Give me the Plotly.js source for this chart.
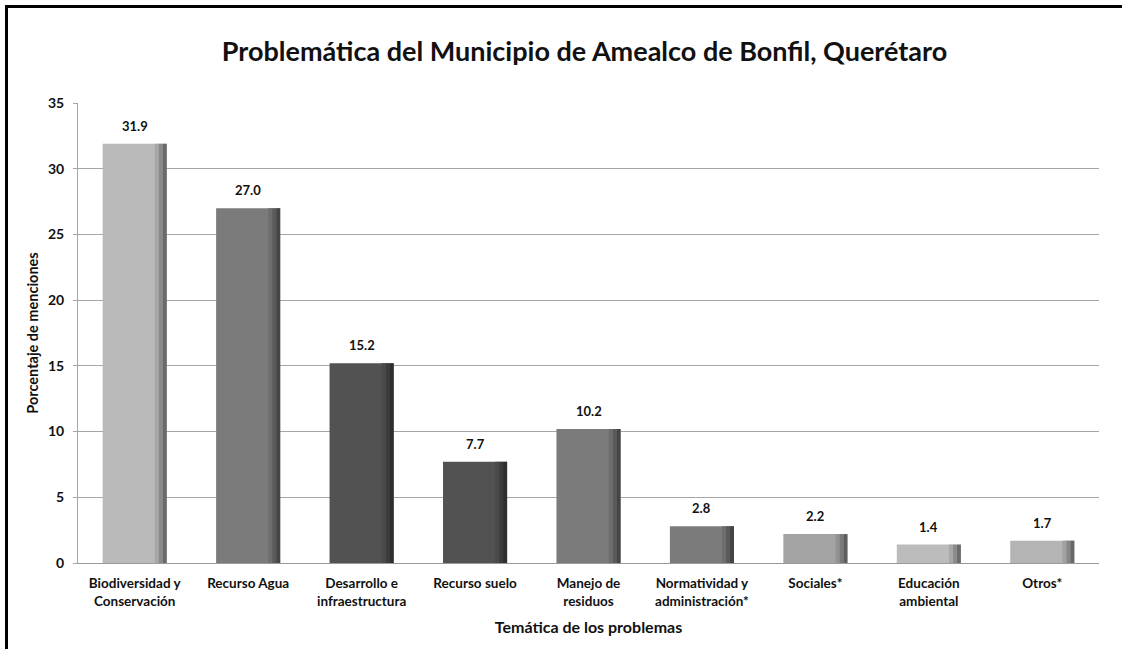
<!DOCTYPE html>
<html>
<head>
<meta charset="utf-8">
<script src="https://cdn.plot.ly/plotly-3.0.1.min.js"></script>
<style>
html,body{margin:0;padding:0;background:#fff;}
#wrap{position:relative;width:1122px;height:649px;}
#chart{position:absolute;left:0;top:0;width:1122px;height:649px;}
#frame{position:absolute;left:5px;top:5px;width:1130px;height:660px;border-left:3px solid #000;border-top:3px solid #000;pointer-events:none;}
</style>
</head>
<body>
<div id="wrap"><div id="chart"></div><div id="frame"></div></div>
<script>
const categories = [
  "Biodiversidad y<br>Conservación",
  "Recurso Agua",
  "Desarrollo e<br>infraestructura",
  "Recurso suelo",
  "Manejo de<br>residuos",
  "Normatividad y<br>administración*",
  "Sociales*",
  "Educación<br>ambiental",
  "Otros*"
];
const values = [31.9, 27.0, 15.2, 7.7, 10.2, 2.8, 2.2, 1.4, 1.7];
const valueLabels = ["31.9", "27.0", "15.2", "7.7", "10.2", "2.8", "2.2", "1.4", "1.7"];
const barColors = ["#b9b9b9", "#7b7b7b", "#525252", "#525252", "#7b7b7b", "#7b7b7b", "#a4a4a4", "#bcbcbc", "#b4b4b4"];
const edgeColors1 = ["#a6a6a6", "#6e6e6e", "#4a4a4a", "#4a4a4a", "#6e6e6e", "#6e6e6e", "#939393", "#a8a8a8", "#a1a1a1"];
const edgeColors2 = ["#8a8a8a", "#5a5a5a", "#3c3c3c", "#3c3c3c", "#5a5a5a", "#5a5a5a", "#7a7a7a", "#8c8c8c", "#868686"];
const edgeColors3 = ["#6a6a6a", "#454545", "#2e2e2e", "#2e2e2e", "#454545", "#454545", "#5e5e5e", "#6c6c6c", "#676767"];

const fontFam = "Lato, 'Open Sans', sans-serif";
const W = 0.565, half = W/2;

const main = {
  type: "bar", x: categories, y: values,
  width: W, offset: -half,
  marker: {color: barColors, line: {width: 0}},
  hoverinfo: "x+y", showlegend: false
};
function edge(colors, w, off) {
  return {type: "bar", x: categories, y: values, width: w, offset: off,
    marker: {color: colors, line: {width: 0}}, hoverinfo: "skip", showlegend: false};
}
const edges = [
  edge(edgeColors1, 0.035, half - 0.105),
  edge(edgeColors2, 0.035, half - 0.07),
  edge(edgeColors3, 0.035, half - 0.035)
];

const annotations = categories.map((c, i) => ({
  x: c, y: values[i], xref: "x", yref: "y",
  text: "<b>" + valueLabels[i] + "</b>", showarrow: false,
  yanchor: "bottom", yshift: 8,
  font: {family: fontFam, size: 13, color: "#111"}
}));

const layout = {
  width: 1122, height: 649,
  margin: {l: 78, r: 23, t: 103, b: 86},
  paper_bgcolor: "#fff", plot_bgcolor: "#fff",
  barmode: "overlay",
  title: {text: "<b>Problemática del Municipio de Amealco de Bonfil, Querétaro</b>",
    font: {family: fontFam, size: 27, color: "#111"}, xref: "container", x: 0.521, xanchor: "center",
    yref: "container", y: 0.92, yanchor: "middle"},
  xaxis: {
    type: "category",
    tickfont: {family: fontFam, size: 13.5, color: "#111", weight: "bold"},
    showgrid: false, showline: true, linecolor: "#9a9a9a", linewidth: 1,
    ticks: "", ticklabelstandoff: 8,
    title: {text: "<b>Temática de los problemas</b>", font: {family: fontFam, size: 16, color: "#111"}, standoff: 14}
  },
  yaxis: {
    range: [0, 35], dtick: 5, tick0: 0,
    tickfont: {family: fontFam, size: 14, color: "#111", weight: "bold"},
    showgrid: true, gridcolor: "#a6a6a6", gridwidth: 1,
    showline: true, linecolor: "#a6a6a6", linewidth: 1,
    zeroline: false, ticks: "outside", ticklen: 4, tickcolor: "#a6a6a6",
    ticklabelstandoff: 6,
    title: {text: "<b>Porcentaje de menciones</b>", font: {family: fontFam, size: 14.5, color: "#111"}, standoff: 5}
  },
  annotations: annotations,
  font: {family: fontFam}
};

Plotly.newPlot("chart", [main].concat(edges), layout, {displayModeBar: false, staticPlot: true});
</script>
</body>
</html>
